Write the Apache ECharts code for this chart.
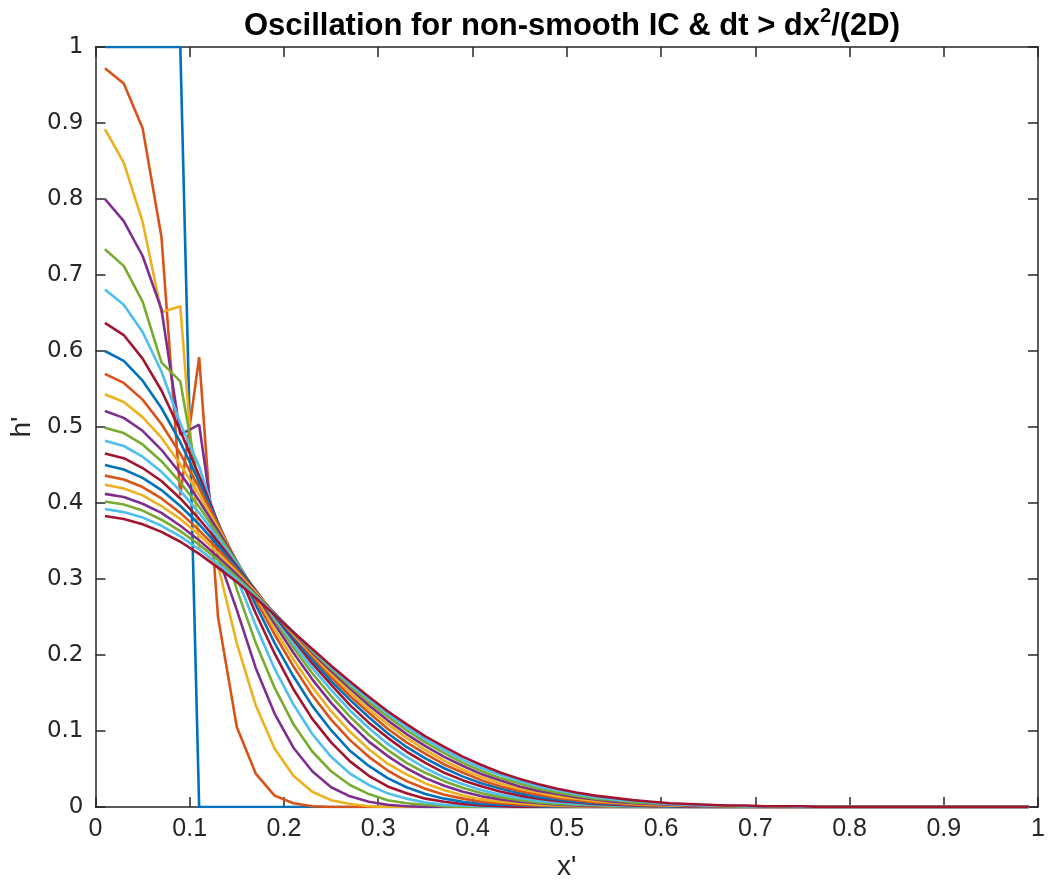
<!DOCTYPE html>
<html>
<head>
<meta charset="utf-8">
<script src="https://cdn.jsdelivr.net/npm/echarts@6/dist/echarts.min.js"></script>
<style>
html,body{margin:0;padding:0;background:#fff;}
#chart{width:1048px;height:886px;}
</style>
</head>
<body>
<div id="chart"></div>
<script>
// x positions (cell centres)
const xs = [
0.01,0.03,0.05,0.07,0.09,0.11,0.13,0.15,0.17,0.19,
0.21,0.23,0.25,0.27,0.29,0.31,0.33,0.35,0.37,0.39,
0.41,0.43,0.45,0.47,0.49,0.51,0.53,0.55,0.57,0.59,
0.61,0.63,0.65,0.67,0.69,0.71,0.73,0.75,0.77,0.79,
0.81,0.83,0.85,0.87,0.89,0.91,0.93,0.95,0.97,0.99];

const L1 = [1,1,1,1,1,0,0,0,0,0, 0,0,0,0,0,0,0,0,0,0, 0,0,0,0,0,0,0,0,0,0, 0,0,0,0,0,0,0,0,0,0, 0,0,0,0,0,0,0,0,0,0];
const L2 = [.972,.952,.893,.750,.410,.592,.250,.105,.044,.015, .005,.001,0,0,0,0,0,0,0,0, 0,0,0,0,0,0,0,0,0,0, 0,0,0,0,0,0,0,0,0,0, 0,0,0,0,0,0,0,0,0,0];
const L3 = [.892,.848,.770,.651,.659,.340,.318,.215,.134,.077, .041,.020,.009,.004,.001,0,0,0,0,0, 0,0,0,0,0,0,0,0,0,0, 0,0,0,0,0,0,0,0,0,0, 0,0,0,0,0,0,0,0,0,0];
const L4 = [.800,.771,.725,.655,.490,.503,.330,.259,.183,.123, .078,.047,.026,.014,.007,.003,.001,0,0,0, 0,0,0,0,0,0,0,0,0,0, 0,0,0,0,0,0,0,0,0,0, 0,0,0,0,0,0,0,0,0,0];
const L5 = [.734,.712,.665,.585,.560,.420,.370,.286,.216,.157, .109,.073,.047,.029,.017,.009,.005,.003,.001,0, 0,0,0,0,0,0,0,0,0,0, 0,0,0,0,0,0,0,0,0,0, 0,0,0,0,0,0,0,0,0,0];
const L6 = [.681,.661,.625,.573,.505,.448,.371,.302,.239,.182, .135,.096,.066,.044,.029,.018,.011,.006,.003,.002, .001,0,0,0,0,0,0,0,0,0, 0,0,0,0,0,0,0,0,0,0, 0,0,0,0,0,0,0,0,0,0];
const L7 = [.637,.621,.590,.548,.495,.436,.374,.313,.255,.202, .155,.116,.085,.060,.041,.027,.018,.011,.007,.004, .002,.001,0,0,0,0,0,0,0,0, 0,0,0,0,0,0,0,0,0,0, 0,0,0,0,0,0,0,0,0,0];
const L8 = [.600,.587,.561,.525,.480,.428,.374,.319,.266,.216, .172,.133,.101,.074,.054,.038,.026,.017,.011,.007, .004,.003,.002,.001,0,0,0,0,0,0, 0,0,0,0,0,0,0,0,0,0, 0,0,0,0,0,0,0,0,0,0];
const L9 = [.570,.558,.536,.504,.465,.420,.372,.322,.273,.227, .185,.147,.115,.088,.066,.048,.034,.024,.016,.011, .007,.005,.003,.002,.001,.001,0,0,0,0, 0,0,0,0,0,0,0,0,0,0, 0,0,0,0,0,0,0,0,0,0];
const L10 = [.543,.533,.513,.486,.451,.411,.368,.322,.278,.234, .194,.158,.126,.099,.076,.057,.043,.031,.022,.015, .010,.007,.005,.003,.002,.001,.001,0,0,0, 0,0,0,0,0,0,0,0,0,0, 0,0,0,0,0,0,0,0,0,0];
const L11 = [.521,.512,.495,.470,.439,.403,.364,.323,.281,.241, .203,.168,.137,.110,.086,.067,.051,.038,.028,.020, .014,.010,.007,.005,.003,.002,.001,.001,0,0, 0,0,0,0,0,0,0,0,0,0, 0,0,0,0,0,0,0,0,0,0];
const L12 = [.499,.492,.477,.455,.427,.395,.359,.322,.283,.246, .210,.176,.146,.119,.095,.075,.058,.045,.034,.025, .018,.013,.009,.006,.004,.003,.002,.001,.001,0, 0,0,0,0,0,0,0,0,0,0, 0,0,0,0,0,0,0,0,0,0];
const L13 = [.482,.475,.461,.441,.416,.387,.354,.320,.284,.249, .215,.183,.154,.127,.104,.083,.066,.051,.039,.030, .022,.016,.012,.008,.006,.004,.003,.002,.001,.001, 0,0,0,0,0,0,0,0,0,0, 0,0,0,0,0,0,0,0,0,0];
const L14 = [.465,.459,.446,.429,.406,.379,.349,.317,.285,.252, .220,.189,.161,.134,.111,.091,.073,.058,.045,.035, .027,.020,.015,.011,.008,.006,.004,.003,.002,.001, .001,0,0,0,0,0,0,0,0,0, 0,0,0,0,0,0,0,0,0,0];
const L15 = [.450,.444,.433,.417,.396,.372,.344,.315,.284,.253, .223,.194,.166,.141,.118,.097,.079,.064,.051,.040, .031,.024,.018,.013,.010,.007,.005,.004,.003,.002, .001,.001,0,0,0,0,0,0,0,0, 0,0,0,0,0,0,0,0,0,0];
const L16 = [.436,.431,.421,.406,.387,.364,.339,.312,.283,.254, .226,.198,.171,.146,.124,.103,.085,.070,.056,.045, .035,.027,.021,.016,.012,.009,.006,.005,.003,.002, .002,.001,.001,0,0,0,0,0,0,0, 0,0,0,0,0,0,0,0,0,0];
const L17 = [.424,.419,.410,.396,.379,.358,.334,.309,.282,.255, .227,.201,.175,.151,.129,.109,.091,.075,.061,.049, .039,.031,.024,.019,.014,.011,.008,.006,.004,.003, .002,.002,.001,.001,0,0,0,0,0,0, 0,0,0,0,0,0,0,0,0,0];
const L18 = [.412,.408,.399,.387,.370,.351,.329,.306,.280,.255, .229,.203,.179,.156,.134,.114,.096,.080,.066,.054, .043,.035,.027,.021,.017,.013,.010,.007,.005,.004, .003,.002,.001,.001,.001,0,0,0,0,0, 0,0,0,0,0,0,0,0,0,0];
const L19 = [.402,.398,.390,.378,.363,.345,.325,.302,.279,.254, .230,.205,.182,.159,.138,.119,.101,.085,.071,.058, .047,.038,.031,.024,.019,.015,.011,.009,.006,.005, .004,.003,.002,.001,.001,.001,0,0,0,0, 0,0,0,0,0,0,0,0,0,0];
const L20 = [.392,.388,.381,.370,.356,.339,.320,.299,.277,.254, .230,.207,.184,.162,.142,.123,.105,.089,.075,.062, .051,.042,.034,.027,.022,.017,.013,.010,.008,.006, .004,.003,.002,.002,.001,.001,.001,0,0,0, 0,0,0,0,0,0,0,0,0,0];
const L21 = [.383,.379,.372,.362,.349,.333,.315,.296,.275,.253, .230,.208,.186,.165,.145,.126,.109,.093,.079,.066, .055,.045,.037,.030,.024,.019,.015,.012,.009,.007, .005,.004,.003,.002,.002,.001,.001,.001,0,0, 0,0,0,0,0,0,0,0,0,0];

const profiles = [L1,L2,L3,L4,L5,L6,L7,L8,L9,L10,L11,L12,L13,L14,L15,L16,L17,L18,L19,L20,L21];
const tickLabels = ['0','0.1','0.2','0.3','0.4','0.5','0.6','0.7','0.8','0.9','1'];
const colors = ['#0072BD','#D95319','#EDB120','#7E2F8E','#77AC30','#4DBEEE','#A2142F'];

const FONT = 'Liberation Sans, Arial, Helvetica, sans-serif';
const WIDE = 'DejaVu Sans, Verdana, sans-serif';
const axisCol = '#262626';
const lbl = v => tickLabels[Math.round(v * 10)];

const chart = echarts.init(document.getElementById('chart'), null, {renderer: 'canvas'});
chart.setOption({
  animation: false,
  backgroundColor: '#ffffff',
  title: {
    text: '{a|Oscillation for non-smooth IC & dt > dx}{b|2}{a|/(2D)}',
    left: 567, top: 1, textAlign: 'center',
    textStyle: {
      rich: {
        a: {fontSize: 31, fontWeight: 'bold', fontFamily: FONT, color: '#000', lineHeight: 36, verticalAlign: 'bottom'},
        b: {fontSize: 20, fontWeight: 'bold', fontFamily: FONT, color: '#000', lineHeight: 18, verticalAlign: 'top'}
      }
    }
  },
  grid: {left: 93, right: 6, top: 47, bottom: 76, containLabel: false},
  xAxis: [{
    type: 'value', min: 0, max: 1, interval: 0.1, position: 'bottom',
    name: "x'", nameLocation: 'middle', nameGap: 46,
    nameTextStyle: {fontSize: 28, fontFamily: FONT, color: axisCol},
    axisLine: {show: true, onZero: false, lineStyle: {color: axisCol, width: 1.5}},
    axisTick: {show: true, inside: true, length: 10, lineStyle: {color: axisCol, width: 1.5}},
    axisLabel: {formatter: lbl, fontSize: 25, fontFamily: FONT, color: axisCol, margin: 10},
    splitLine: {show: false}
  }, {
    type: 'value', min: 0, max: 1, interval: 0.1, position: 'top',
    axisLine: {show: true, onZero: false, lineStyle: {color: axisCol, width: 1.5}},
    axisTick: {show: true, inside: true, length: 10, lineStyle: {color: axisCol, width: 1.5}},
    axisLabel: {show: false}, splitLine: {show: false}
  }],
  yAxis: [{
    type: 'value', min: 0, max: 1, interval: 0.1, position: 'left',
    name: "h'", nameLocation: 'middle', nameGap: 55, nameRotate: 90,
    nameTextStyle: {fontSize: 28, fontFamily: FONT, color: axisCol},
    axisLine: {show: true, onZero: false, lineStyle: {color: axisCol, width: 1.5}},
    axisTick: {show: true, inside: true, length: 10, lineStyle: {color: axisCol, width: 1.5}},
    axisLabel: {formatter: lbl, fontSize: 23, fontFamily: WIDE, color: axisCol, margin: 12},
    splitLine: {show: false}
  }, {
    type: 'value', min: 0, max: 1, interval: 0.1, position: 'right',
    axisLine: {show: true, onZero: false, lineStyle: {color: axisCol, width: 1.5}},
    axisTick: {show: true, inside: true, length: 10, lineStyle: {color: axisCol, width: 1.5}},
    axisLabel: {show: false}, splitLine: {show: false}
  }],
  series: profiles.map((ys, i) => ({
    type: 'line',
    xAxisIndex: 0, yAxisIndex: 0,
    data: xs.map((x, j) => [x, ys[j]]),
    showSymbol: false, symbol: 'none',
    clip: true,
    lineStyle: {width: 2.6, color: colors[i % colors.length]},
    itemStyle: {color: colors[i % colors.length]},
    emphasis: {disabled: true}
  }))
});
</script>
</body>
</html>
